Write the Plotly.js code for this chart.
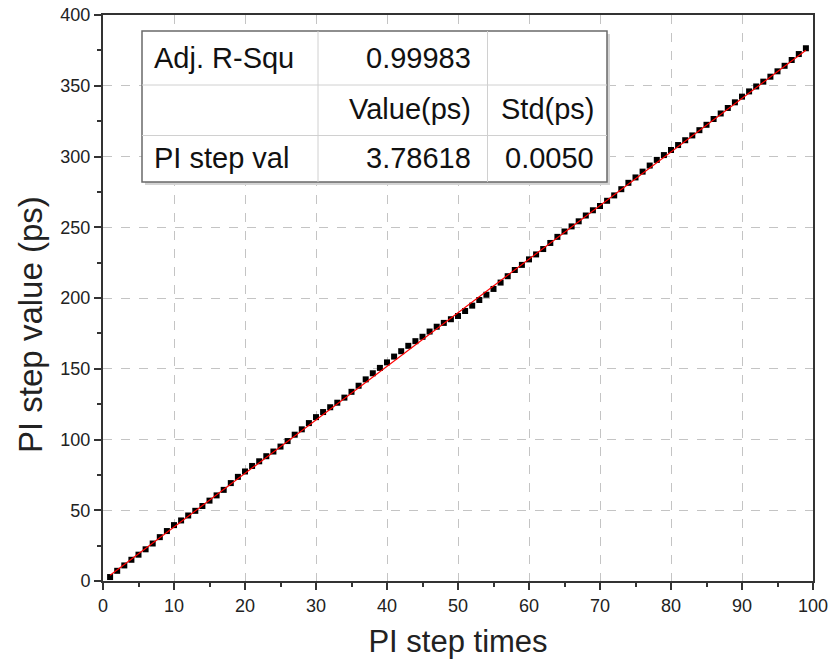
<!DOCTYPE html>
<html>
<head>
<meta charset="utf-8">
<script src="https://cdn.plot.ly/plotly-3.0.1.min.js"></script>
<style>html,body{margin:0;padding:0;background:#fff;}#chart{width:835px;height:665px;}</style>
</head>
<body>
<div id="chart"></div>
<script>
// ---- data ----
const stepTimes = [1,2,3,4,5,6,7,8,9,10,11,12,13,14,15,16,17,18,19,20,21,22,23,24,25,26,27,28,29,30,31,32,33,34,35,36,37,38,39,40,41,42,43,44,45,46,47,48,49,50,51,52,53,54,55,56,57,58,59,60,61,62,63,64,65,66,67,68,69,70,71,72,73,74,75,76,77,78,79,80,81,82,83,84,85,86,87,88,89,90,91,92,93,94,95,96,97,98,99];
const stepValues = [2.8,7.2,11.0,15.0,18.6,22.4,26.5,31.0,35.3,39.5,42.8,46.3,49.6,53.0,56.8,60.5,64.4,69.2,73.6,77.4,81.3,84.6,88.2,91.5,95.0,98.9,103.4,107.2,111.6,115.8,119.4,122.8,126.0,129.6,133.7,138.0,142.5,146.8,150.6,154.5,158.6,162.4,166.2,169.5,172.6,176.3,179.7,182.4,185.0,187.3,190.8,194.6,198.6,202.3,206.4,210.9,215.4,219.8,223.4,227.3,230.8,234.6,238.9,243.2,247.0,250.6,254.2,258.3,262.0,265.0,268.7,272.5,276.9,281.4,285.2,289.3,293.6,297.6,301.0,304.6,308.1,311.5,314.9,318.6,322.4,326.5,330.4,334.3,338.3,342.3,346.0,349.5,352.9,356.4,360.2,364.1,368.2,372.4,376.5];
const fitX = [1, 99];
const fitY = [4.1, 375.1];
const tableRow1 = ["Adj. R-Squ", "0.99983", ""];
const tableRow2 = ["", "Value(ps)", "Std(ps)"];
const tableRow3 = ["PI step val", "3.78618", "0.0050"];
const xTitle = "PI step times";
const yTitle = "PI step value (ps)";

// ---- layout helpers (pixel -> paper) ----
const L = 103, R = 813, T = 15, B = 581;
const W = 835, H = 665;
const px = v => (v - L) / (R - L);
const py = v => (B - v) / (B - T);

const FONT = "Liberation Sans, Arial, sans-serif";

const traces = [
  {x: stepTimes, y: stepValues, type: 'scatter', mode: 'markers',
   marker: {symbol: 'square', size: 6, color: '#000'}, hoverinfo: 'x+y'},
  {x: fitX, y: fitY, type: 'scatter', mode: 'lines',
   line: {color: '#ff0000', width: 1.2}}
];

// table geometry (pixels)
const tL = 142, tR = 607, tT = 31, tB = 182;
const c1 = 318, c2 = 487.5;
const r1 = 85, r2 = 135.5;

const shapes = [
  {type: 'rect', xref: 'paper', yref: 'paper', x0: px(tL + 3), x1: px(tR + 3), y0: py(tB + 3), y1: py(tT + 3),
   fillcolor: '#d4d4d4', line: {width: 0}, layer: 'above'},
  {type: 'rect', xref: 'paper', yref: 'paper', x0: px(tL), x1: px(tR), y0: py(tB), y1: py(tT),
   fillcolor: '#ffffff', line: {color: '#6a6a6a', width: 1.5}, layer: 'above'},
  {type: 'line', xref: 'paper', yref: 'paper', x0: px(c1), x1: px(c1), y0: py(tB), y1: py(tT), line: {color: '#d0d0d0', width: 1}, layer: 'above'},
  {type: 'line', xref: 'paper', yref: 'paper', x0: px(c2), x1: px(c2), y0: py(tB), y1: py(tT), line: {color: '#d0d0d0', width: 1}, layer: 'above'},
  {type: 'line', xref: 'paper', yref: 'paper', x0: px(tL), x1: px(tR), y0: py(r1), y1: py(r1), line: {color: '#d0d0d0', width: 1}, layer: 'above'},
  {type: 'line', xref: 'paper', yref: 'paper', x0: px(tL), x1: px(tR), y0: py(r2), y1: py(r2), line: {color: '#d0d0d0', width: 1}, layer: 'above'}
];

const rows = [tableRow1, tableRow2, tableRow3];
const rowCenters = [58, 109, 158];
const colAnchors = [[152, 'left'], [473, 'right'], [596, 'right']];
const annotations = [];
rows.forEach((row, ri) => {
  row.forEach((txt, ci) => {
    if (!txt) return;
    annotations.push({
      xref: 'paper', yref: 'paper', x: px(colAnchors[ci][0]), y: py(rowCenters[ri]),
      xanchor: colAnchors[ci][1], yanchor: 'middle', text: txt, showarrow: false,
      font: {family: FONT, size: 29, color: '#111'}
    });
  });
});
// y-axis title (placed as in the reference, slightly below the axis centre)
annotations.push({
  xref: 'paper', yref: 'paper', x: px(30), y: py(325), xanchor: 'center', yanchor: 'middle',
  text: yTitle, textangle: -90, showarrow: false,
  font: {family: FONT, size: 33, color: '#222'}
});

const axisCommon = {
  showline: true, linecolor: '#333', linewidth: 2, mirror: true,
  ticks: 'outside', ticklen: 7, tickwidth: 2, tickcolor: '#333',
  showgrid: true, gridcolor: '#c4c4c4', griddash: 'dash', gridwidth: 1,
  zeroline: false,
  tickfont: {family: FONT, size: 18, color: '#222'}
};

const layout = {
  width: W, height: H,
  margin: {l: L, r: W - R, t: T, b: H - B, pad: 0},
  paper_bgcolor: '#fff', plot_bgcolor: '#fff',
  showlegend: false,
  xaxis: Object.assign({}, axisCommon, {
    range: [0, 100], tickvals: [0,10,20,30,40,50,60,70,80,90,100],
    minor: {dtick: 5, tick0: 0, ticks: 'outside', ticklen: 4, tickwidth: 2, tickcolor: '#333', showgrid: false},
    title: {text: xTitle, font: {family: FONT, size: 31, color: '#222'}, standoff: 16}
  }),
  yaxis: Object.assign({}, axisCommon, {
    range: [0, 400], tickvals: [0,50,100,150,200,250,300,350,400],
    minor: {dtick: 25, tick0: 0, ticks: 'outside', ticklen: 4, tickwidth: 2, tickcolor: '#333', showgrid: false}
  }),
  shapes: shapes,
  annotations: annotations
};

Plotly.newPlot('chart', traces, layout, {displayModeBar: false, staticPlot: true});
</script>
</body>
</html>
